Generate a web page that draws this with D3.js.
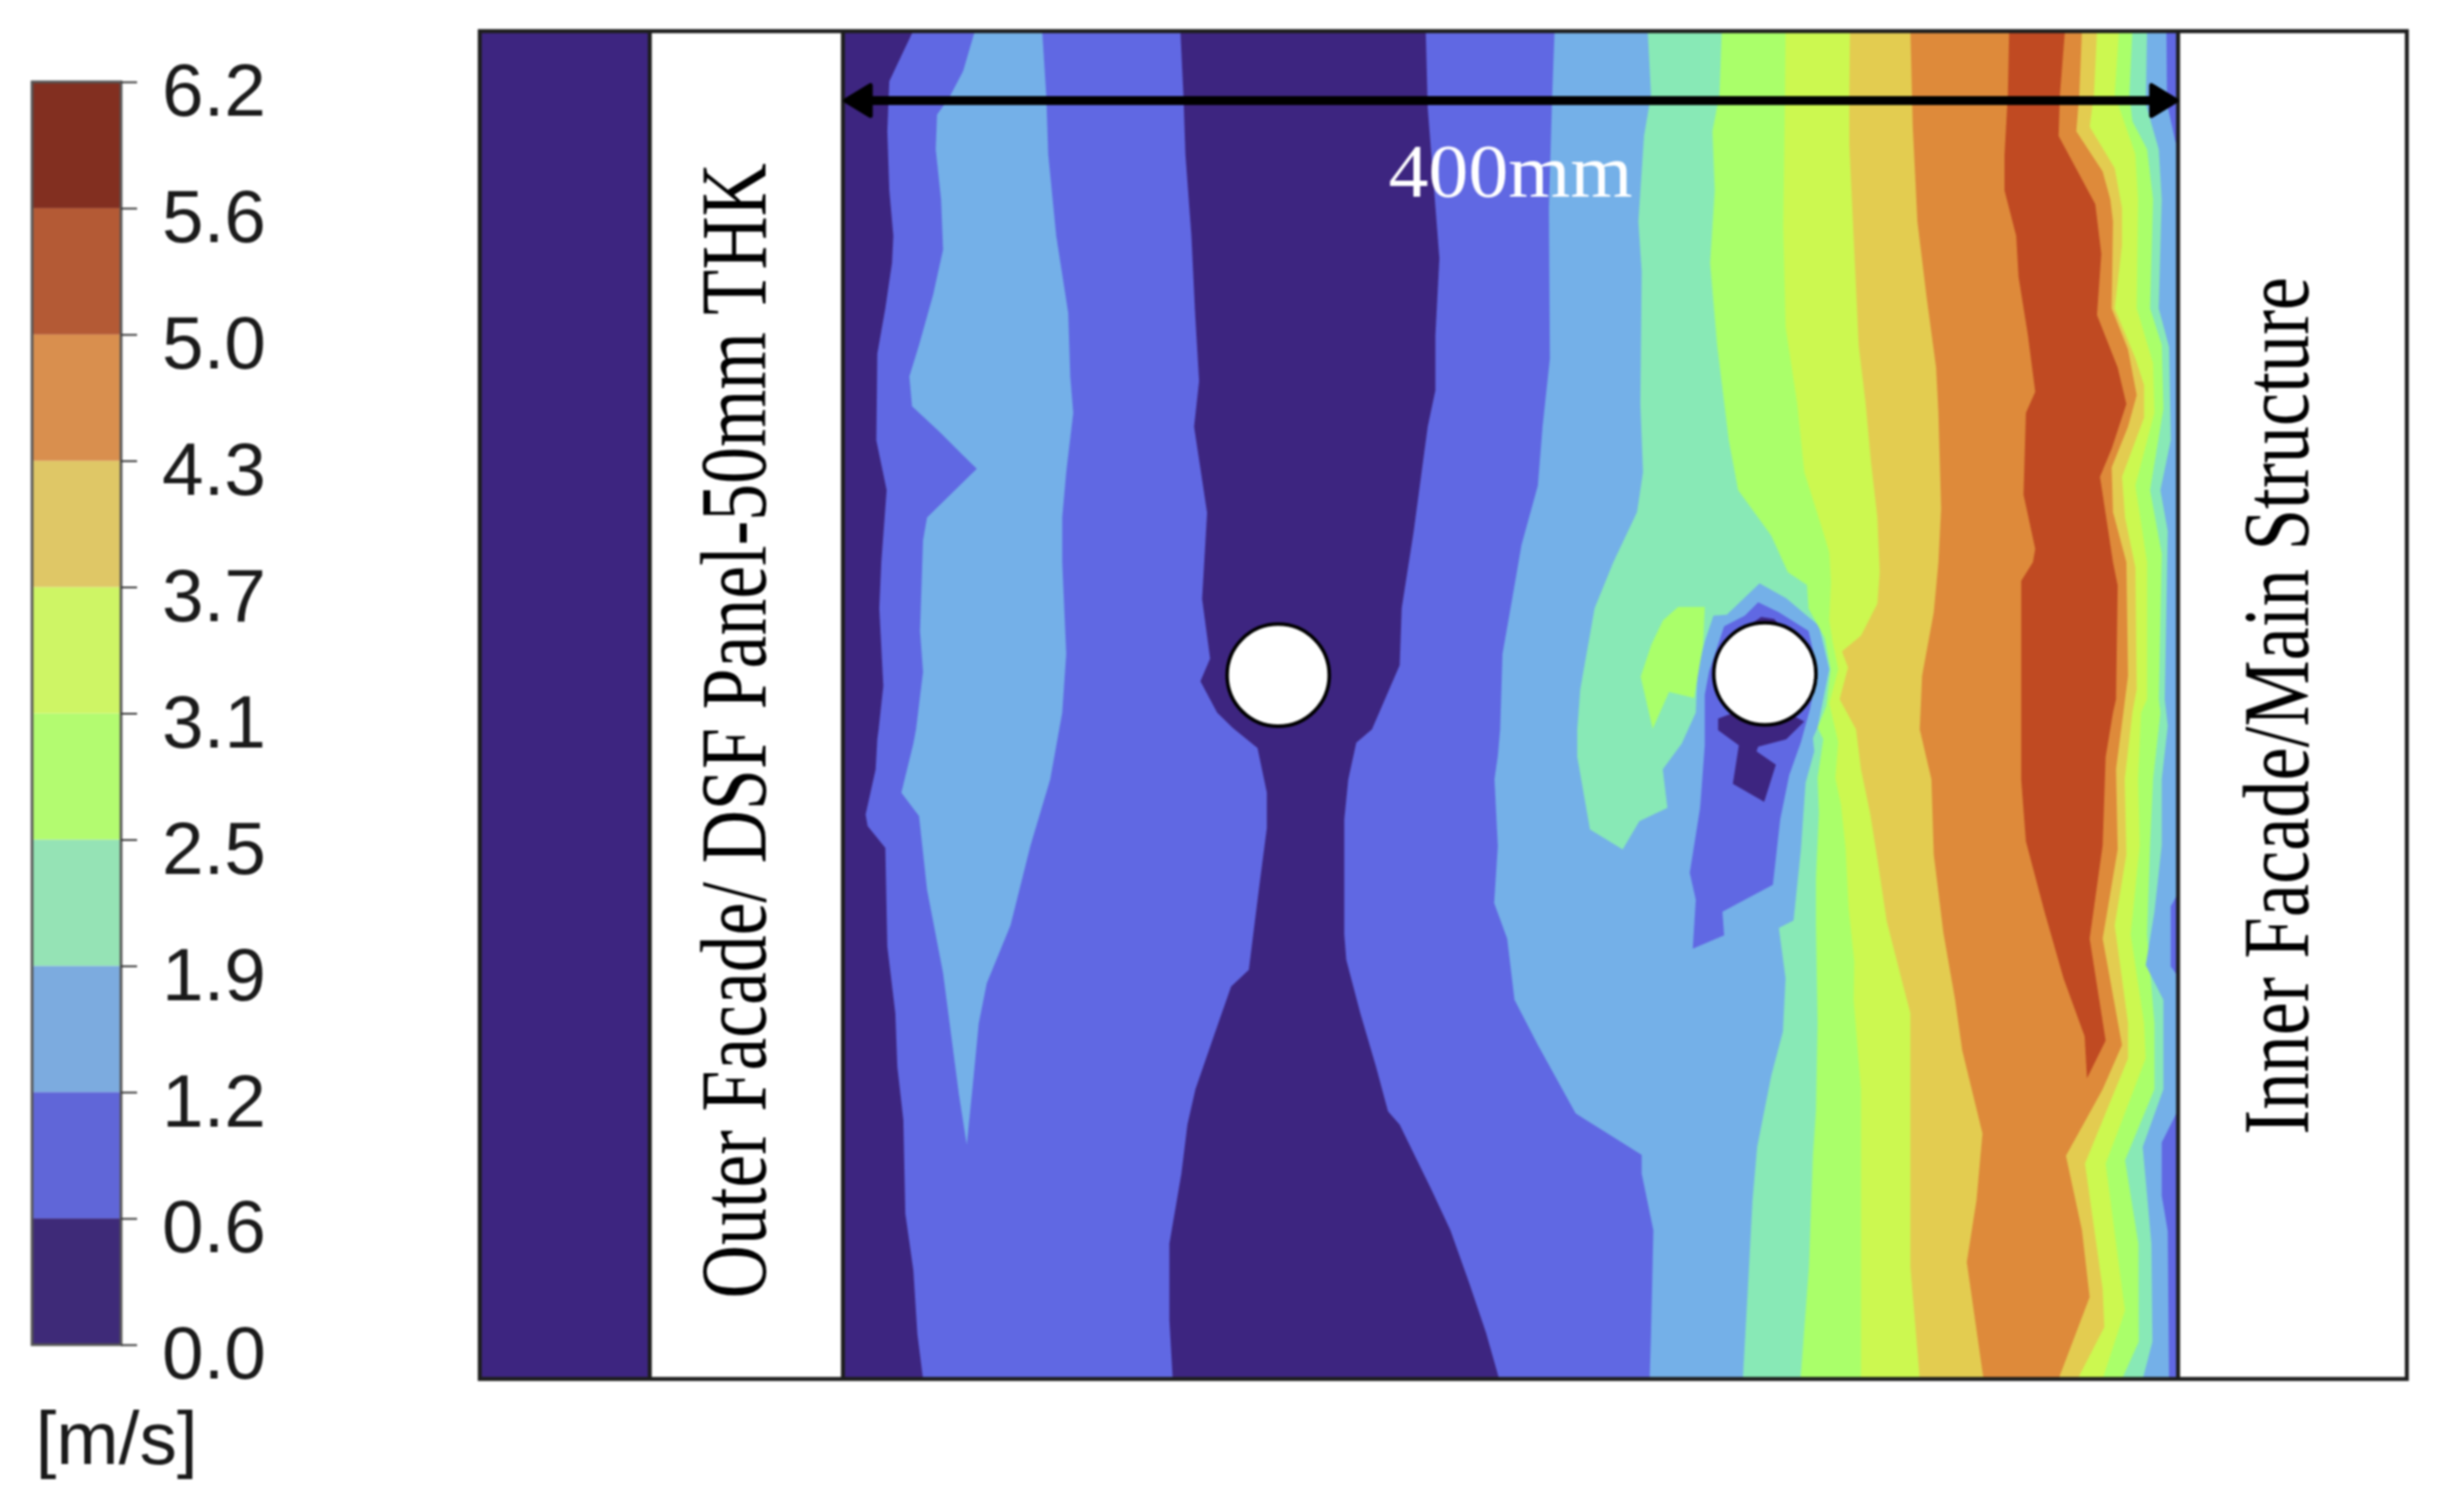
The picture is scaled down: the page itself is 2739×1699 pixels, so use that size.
<!DOCTYPE html>
<html><head><meta charset="utf-8">
<script src="https://cdn.jsdelivr.net/npm/d3@7"></script>
<style>html,body{margin:0;padding:0;background:#fff}svg{display:block;filter:blur(0.9px)}</style>
</head><body><svg id="c" width="2739" height="1699"></svg>
<script>
// Colour scale
const tickLabels = ["0.0","0.6","1.2","1.9","2.5","3.1","3.7","4.3","5.0","5.6","6.2"];
const barColors = ["#3e2a78","#6066d8","#7cabdf","#95e3b5","#b3fb70","#cef565","#dfc766","#d98f4e","#b45a35","#822f20"];
const fieldColors = {dark:"#3d2580",blue:"#6068e3",light:"#74b0e8",teal:"#88e9b6",green:"#aaff6a",lime:"#ccf850",yellow:"#e3cc50",orange:"#de8a3a",red:"#c04a22"};

// Iso-velocity boundaries, [x mm, y mm] from panel's top-left
const darkLeftEdge = [[21,0],[13.9,15],[13.3,30],[13.9,47.7],[15.1,61.3],[14.7,69.4],[12.7,83],[10.3,96.6],[10,122.5],[13.1,137.4],[11.5,159],[10.9,172.8],[12.1,196],[10.7,209],[10.3,212],[9.8,221],[6.8,234.5],[7.4,238],[12.7,244.5],[13.3,274],[15.7,294],[16.3,310],[18.1,326],[18.7,354],[21.1,371],[22.3,390],[24,403.5]];
const lightLeftLobe = [[39.5,0],[36,12],[31.8,20],[28.2,25],[27.8,35.4],[29.4,50.4],[30,65.4],[27,79],[22.8,94],[19.9,103.4],[20.7,112.3],[28.8,119.8],[36,127],[40.1,131],[25.2,145.6],[24,152.4],[23.1,179.6],[24,191.8],[21.9,209],[21.1,213.3],[17.5,228],[22.8,235],[25.2,257],[30,282],[34.7,318],[37.1,333.4],[38.9,315.5],[40.7,297],[43.1,285],[50.2,267.7],[56.2,243.8],[62.1,224],[65.7,204],[66.9,186.4],[65.7,159],[65.7,145.6],[66.9,132],[69,114.3],[68.1,103.4],[67.5,84.4],[63.9,61.3],[61.5,36.8],[60.9,19],[59.7,0]];
const darkCentre = [[101.1,0],[102,19],[102.6,36.8],[104.4,61.3],[105.5,84.4],[106.7,104.8],[105.2,118.4],[109.1,144.2],[107.6,170],[110,187.8],[107.1,194.6],[112.1,204],[116.8,208.6],[124.2,214.6],[127,228],[127,238.5],[124.6,257],[121.6,281],[116.3,286],[112.1,298],[105.6,316.8],[103.2,327.4],[101.4,342],[97.8,363],[97.8,385.8],[98.8,403.5],[196.6,403.5],[192.7,389.8],[187.7,375],[182,359],[176.4,347],[166.8,327.4],[163.3,323.4],[159.7,310],[155,294],[150.8,278],[150.2,270.4],[150.2,236],[151.4,224],[153.8,213],[158.5,209],[166.8,189.8],[167.4,172.8],[171,149.7],[175.2,118.4],[177.5,107.5],[177.5,91],[178.7,68],[175.2,23],[174.6,0]];
const lightEdge = [[213.2,0],[212.5,19],[211.5,53],[211.8,98],[209.6,118.4],[208.2,136],[203.3,153.8],[200.5,170],[197.6,186.4],[196.9,209],[196.2,217],[195.2,224],[196.2,244],[195.1,261],[199,271.7],[201.2,290],[208.2,303.5],[219.5,324],[239.3,336.4],[239.3,342],[242.8,359],[242.1,389.8],[241.7,403.5]];
const tealEdge = [[241.1,0],[242.1,19],[240,31.4],[238.3,57],[239.3,72],[238.9,111.6],[239.7,132],[237.9,144],[230.8,159],[225.2,172.8],[220.9,197],[220,209],[220,217.3],[223.8,239],[233.6,245],[238.6,236.5],[247,232.5],[245.6,221],[251.3,213.3],[255.5,204],[256,191.6],[258.2,182.7],[260.8,175],[264.8,174.7],[274.6,165.3],[282.6,169.8],[292.4,178],[295.5,191],[292,208.5],[290.6,211.6],[291,215.6],[288.4,225],[287,245],[284.8,266.2],[280.4,268.5],[282.4,283.6],[281.6,299.5],[278.1,312.8],[273.9,334],[272.5,350],[271.1,376.5],[269.6,403.5]];
const greenEdge = [[263.3,0],[262.6,19],[260.5,30],[261.2,47.7],[259.8,69.4],[261.9,94],[265.4,122.5],[268.2,137.4],[278.1,151],[283.1,162],[288.8,165.8],[289.3,172.9],[294.2,181.8],[295.9,191],[294.6,202],[292,208.5],[293.7,212],[292,223.6],[292.4,234],[291.5,253.8],[291.5,267.7],[292,297],[291.5,323.4],[290.6,336.7],[289.4,370],[286.9,403.5]];
const limeEdge = [[282.4,0],[282.1,28.6],[281.7,58.6],[282.4,88.5],[285.9,111.6],[288,132],[293.6,149.7],[295.5,156],[296,164.9],[295.5,176.4],[296.5,183],[298.2,191],[295.5,201.3],[298.2,212.9],[297.3,223.6],[299,231.6],[300.4,244.9],[301.3,262.7],[303,278.7],[302.8,290],[305,317],[305,350],[305,403.5]];
const yellowEdge = [[301.7,0],[301.5,19],[301.5,34],[302.9,64],[304.3,94],[306.4,111.6],[308,129],[309.9,145.6],[310.6,162],[309.9,171.4],[305,181],[299.3,185.7],[301.1,190.5],[298.6,200],[303.5,209],[305,221],[307.8,234.5],[309.9,247.8],[312.7,266.4],[317.7,286],[319.8,294],[319.8,370],[322.6,403.5]];
const orangeEdge = [[319.8,0],[320.5,28.6],[321.9,57],[324.7,80],[327.5,100.7],[328.2,114.3],[329,143],[328.2,159],[326.8,174],[323.3,193],[322.6,209],[326.1,224],[326.8,246.5],[329.7,270],[333.2,290],[335.3,305],[341.4,330],[339.6,350],[336.7,368.5],[341.7,403.5]];
const redCore = [[349.4,0],[349,19],[348,37],[348,47.7],[351.5,61.3],[352.2,73.5],[355,91],[357.2,108],[354.4,114.3],[353.7,138.8],[357.2,155],[356.5,159],[353,164.6],[353,200],[353,224],[354.4,242.5],[360,263.7],[365.7,283.6],[372,300.9],[372.7,313.5],[378.3,302.2],[373.5,271.7],[377.4,243.8],[378.3,217.3],[380.5,204],[381.4,200],[381.9,166],[380.5,159],[376.6,133.4],[380.1,125],[384.5,111.6],[381.9,100.7],[375.7,85],[377,66.7],[375.2,51.8],[364.2,31.4],[364.6,19],[366.1,0]];
const innerYellowEdge = [[371.2,0],[370.4,19],[369.5,30],[377.4,42],[379.7,50.4],[380.5,57],[380.1,83],[385,95.3],[387.6,109],[385,118.4],[380.1,130.6],[380.5,144],[384.5,159],[385,193],[383.6,204],[381.4,221],[381.9,245],[377.4,271.7],[383.2,303.5],[377.4,316.8],[366.4,336.7],[371.2,359],[373.5,379],[364.2,403.5]];
const innerLimeEdge = [[375.7,0],[374.8,19],[373.5,28.6],[381,41],[383.2,53],[383.2,64],[381,83],[387.2,98],[389.8,106],[389.8,115.7],[383.2,133.4],[384.1,145.6],[387.2,160.6],[387.6,197],[386.3,204],[384,224],[384.5,246.5],[381,267.7],[385,297],[385,307.5],[372.1,339],[377.4,376.5],[377.9,388],[369.9,403.5]];
const innerGreenEdge = [[382.3,0],[381,19],[387.2,36.8],[388,50.4],[387.6,83],[392.5,99.4],[392.9,114.3],[387.2,136],[390.7,159],[390.7,200],[388.9,204],[388,224],[388.5,243.8],[385.8,270.4],[389.8,297],[390.3,307.5],[378.3,339],[383.2,376.5],[384.1,383],[377.4,403.5]];
const innerTealEdge = [[386.3,0],[385.4,19],[386.3,27],[390.7,35.4],[392.5,50.4],[391.6,83],[395.1,94],[395.6,113],[391.6,137.4],[395.1,156.5],[394.2,200],[394.7,204],[392.5,224],[391.6,243.8],[390.7,270.4],[392.9,297],[392.9,316.8],[384.1,338],[388.1,363],[388.2,392.4],[383.2,403.5]];
const innerLightEdge = [[390.7,0],[390.3,21.8],[394.2,35.4],[395.1,50.4],[394.2,83],[397.3,94.6],[397.8,122.5],[394.7,137.4],[396.9,149.7],[396,200],[396.9,208],[395.1,224],[395.1,243.8],[392.9,263.7],[390.3,279.6],[395.6,290],[395.6,316.8],[389.4,334],[392,363],[392.3,392.4],[389.4,403.5]];
const wallBlueTop = [[396.5,0],[396.7,21.8],[399.1,32.7],[400,35],[400,0]];
const wallBlueMid = [[400,258],[397.8,262],[397.8,280],[400,283]];
const wallBlueLow = [[400,323],[395.1,332.7],[395.1,348.6],[396.9,359.3],[397.3,403.5],[400,403.5]];
const wakeBlue = [[274.2,171],[280.4,174],[289.3,179.6],[292,191.6],[289.7,203],[287,212.9],[283.5,222.7],[280.8,236],[278.6,255.6],[263.5,263.6],[264,270.7],[254.6,274.7],[255.5,260],[253.7,252],[256.8,232.5],[258.2,213.8],[258.2,198.7],[259.5,191.6],[264,178.2],[270.2,175]];
const wakeDarkTop = [[272.4,177.3],[275.1,175.4],[279,176],[280.8,178.2],[276.2,182.7]];
const wakeDarkLow = [[262.2,205.8],[262.2,209.3],[268.4,213.8],[266.6,225.3],[276,230.7],[279.5,219.6],[273.7,215.6],[274.2,214.2],[282.6,212],[288,206.7],[276.2,200.5]];
const greenIsland = [[250.2,172.4],[258.2,172.4],[257.7,183.6],[255,199.6],[247.5,197.8],[242.6,208.9],[239,193.3],[242.2,183.6],[245.7,176.4]];
const pipes = [[130.4,192.8],[276.2,192.4]];
const pipeRadiusMm = 15.3;

const svg = d3.select("#c");
const W = 400, H = 403.5;
const x = d3.scaleLinear().domain([0,W]).range([947,2447]);
const y = d3.scaleLinear().domain([0,H]).range([35,1549.5]);
const line = d3.line().x(d=>x(d[0])).y(d=>y(d[1])).curve(d3.curveLinear);
const rightOf = e => e.concat([[W,H],[W,0]]);
const F = fieldColors;

// Frame panels
const frameL = 539, stripR = 730, frameR = 2704;
svg.append("rect").attr("x",frameL).attr("y",y(0)).attr("width",frameR-frameL).attr("height",y(H)-y(0)).attr("fill","#fff");
svg.append("rect").attr("x",frameL).attr("y",y(0)).attr("width",stripR-frameL).attr("height",y(H)-y(0)).attr("fill",F.dark);

// Contour field (painted back to front)
svg.append("defs").append("clipPath").attr("id","p").append("rect").attr("x",x(0)).attr("y",y(0)).attr("width",x(W)-x(0)).attr("height",y(H)-y(0));
const field = svg.append("g").attr("clip-path","url(#p)");
field.append("rect").attr("x",x(0)).attr("y",y(0)).attr("width",x(W)-x(0)).attr("height",y(H)-y(0)).attr("fill",F.blue);
const layers = [
  [[[0,H],[0,0]].concat(darkLeftEdge), F.dark],
  [lightLeftLobe, F.light],
  [darkCentre, F.dark],
  [rightOf(lightEdge), F.light],
  [rightOf(tealEdge), F.teal],
  [greenIsland, F.green],
  [rightOf(greenEdge), F.green],
  [rightOf(limeEdge), F.lime],
  [rightOf(yellowEdge), F.yellow],
  [rightOf(orangeEdge), F.orange],
  [redCore, F.red],
  [rightOf(innerYellowEdge), F.yellow],
  [rightOf(innerLimeEdge), F.lime],
  [rightOf(innerGreenEdge), F.green],
  [rightOf(innerTealEdge), F.teal],
  [rightOf(innerLightEdge), F.light],
  [wallBlueTop, F.blue],[wallBlueMid, F.blue],[wallBlueLow, F.blue],
  [wakeBlue, F.blue],[wakeDarkTop, F.dark],[wakeDarkLow, F.dark]
];
field.selectAll("path").data(layers).join("path")
  .attr("d",d=>line(d[0])+"Z").attr("fill",d=>d[1]);

// Pipes
svg.selectAll("circle.pipe").data(pipes).join("circle").attr("class","pipe")
  .attr("cx",d=>x(d[0])).attr("cy",d=>y(d[1])).attr("r",x(pipeRadiusMm)-x(0))
  .attr("fill","#fff").attr("stroke","#000").attr("stroke-width",4);

// Frame lines
const stroke="#1e1e1e";
svg.append("rect").attr("x",frameL).attr("y",y(0)).attr("width",frameR-frameL).attr("height",y(H)-y(0)).attr("fill","none").attr("stroke",stroke).attr("stroke-width",4.5);
[stripR,x(0),x(W)].forEach(v=>svg.append("line").attr("x1",v).attr("x2",v).attr("y1",y(0)).attr("y2",y(H)).attr("stroke",stroke).attr("stroke-width",4.5));

// Dimension arrow
const ay = 113;
svg.append("line").attr("x1",x(0)+25).attr("x2",x(W)-25).attr("y1",ay).attr("y2",ay).attr("stroke","#000").attr("stroke-width",10);
[[x(0)+3,1],[x(W)-2,-1]].forEach(([t,s])=>{
  svg.append("path").attr("d",`M${t},${ay}L${t+s*28},${ay-17}L${t+s*28},${ay+17}Z`)
    .attr("fill","#000").attr("stroke","#000").attr("stroke-width",5).attr("stroke-linejoin","round");
});

// Labels
const serif = "'Liberation Serif','Times New Roman',serif";
svg.append("text").text("400mm").attr("x",1560).attr("y",221).attr("font-family",serif).attr("font-size",84).attr("fill","#fff")
  .attr("textLength",274).attr("lengthAdjust","spacingAndGlyphs");
// Rotated labels: sized to their length, then stretched across the strip to the glyph height seen in the reference
function vtext(t,bx,from,to){
  const el = svg.append("text").text(t).attr("font-family",serif).attr("font-size",100).attr("fill","#000");
  const natural = el.node().getComputedTextLength();
  const size = 100*(from-to)/natural;
  el.attr("font-size",size).attr("transform",`translate(${bx},${from}) rotate(-90) scale(1,${105/size})`);
}
vtext("Outer Facade/ DSF Panel-50mm THK",860,1459,183);
vtext("Inner Facade/Main Structure",2593,1275,311);

// Colour bar
const bar = svg.append("g");
const by = d3.scalePoint().domain(tickLabels).range([1511,92]);
const barL = 36, barR = 136;
bar.selectAll("rect").data(barColors).join("rect")
  .attr("x",barL).attr("width",barR-barL)
  .attr("y",(d,i)=>by(tickLabels[i+1])).attr("height",(d,i)=>by(tickLabels[i])-by(tickLabels[i+1]))
  .attr("fill",d=>d);
bar.append("rect").attr("x",barL).attr("y",92).attr("width",barR-barL).attr("height",1419).attr("fill","none").attr("stroke","#555").attr("stroke-width",3);
const axis = bar.append("g").attr("transform",`translate(${barR},0)`)
  .call(d3.axisRight(by).tickSize(18).tickPadding(28));
axis.select(".domain").remove();
axis.selectAll("line").attr("stroke","#333").attr("stroke-width",2);
axis.selectAll("text").attr("font-family","'Liberation Sans',Arial,sans-serif").attr("font-size",84).attr("fill","#1a1a1a").attr("dy","0.45em");
svg.append("text").text("[m/s]").attr("x",40).attr("y",1645).attr("font-family","'Liberation Sans',Arial,sans-serif").attr("font-size",84).attr("fill","#1a1a1a");
</script></body></html>
